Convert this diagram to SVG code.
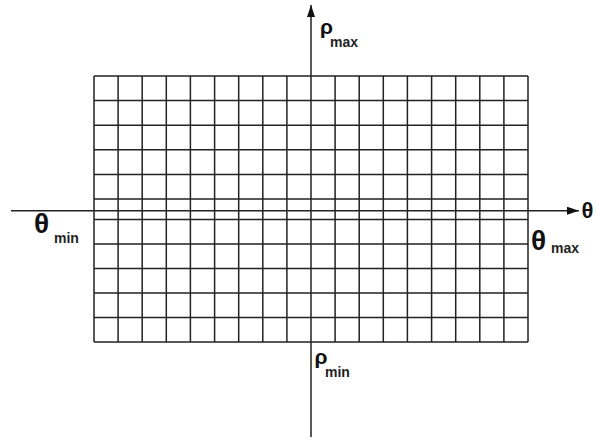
<svg xmlns="http://www.w3.org/2000/svg" width="596" height="439" viewBox="0 0 596 439">
<style>
.grid{fill:none;stroke:#222;stroke-width:1.5}
.axis{fill:none;stroke:#222;stroke-width:1.5}
.g{font-family:"Liberation Sans","DejaVu Sans",sans-serif;font-weight:bold;fill:#111}
.s{font-family:"Liberation Sans","DejaVu Sans",sans-serif;font-weight:bold;fill:#222;font-size:14px}
</style>
<defs>
<marker id="ah" viewBox="0 0 12 8" refX="12" refY="4" markerWidth="12" markerHeight="8" markerUnits="userSpaceOnUse" orient="auto">
<path d="M0,0 L12,4 L0,8 Z" fill="#111"/>
</marker>
</defs>
<rect width="596" height="439" fill="#fff"/>
<g id="grid">
<path class="grid" d="M94,76V342 M118.1,76V342 M142.2,76V342 M166.3,76V342 M190.4,76V342 M214.6,76V342 M238.7,76V342 M262.8,76V342 M286.9,76V342 M335.1,76V342 M359.2,76V342 M383.3,76V342 M407.4,76V342 M431.6,76V342 M455.7,76V342 M479.8,76V342 M503.9,76V342 M528,76V342"/>
<path class="grid" d="M94,76H528 M94,100.6H528 M94,125.2H528 M94,149.8H528 M94,174.4H528 M94,199H528 M94,219.5H528 M94,244H528 M94,268.5H528 M94,293H528 M94,317.5H528 M94,342H528"/>
</g>
<g id="connectors">
<path class="axis" d="M11,210.7H579" marker-end="url(#ah)"/>
<path class="axis" d="M311,437V5" marker-end="url(#ah)"/>
</g>
<g id="rho_max"><text class="g" x="320" y="33.5" font-size="21">ρ</text><text class="s" x="330" y="47">max</text></g>
<g id="rho_min"><text class="g" x="314.5" y="364" font-size="21">ρ</text><text class="s" x="325" y="377">min</text></g>
<g id="theta_min"><text class="g" x="34" y="233" font-size="28">θ</text><text class="s" x="54" y="243">min</text></g>
<g id="theta_max"><text class="g" x="531" y="250" font-size="28">θ</text><text class="s" x="551" y="253">max</text></g>
<g id="theta"><text class="g" x="581.5" y="218" font-size="22">θ</text></g>
</svg>
